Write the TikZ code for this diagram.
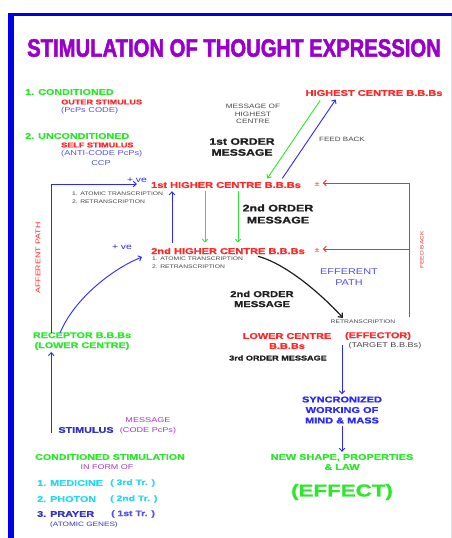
\documentclass[tikz,border=0pt]{standalone}
\usepackage{fontspec}
\setmainfont{Liberation Sans}[FakeStretch=1.3,BoldFeatures={FakeBold=1.2}]
\newfontfamily\titlefont{Liberation Sans}[FakeStretch=0.81,BoldFeatures={FakeBold=2}]
\usepackage{xcolor}
\usetikzlibrary{positioning}
\usetikzlibrary{arrows.meta}
\usetikzlibrary{calc}

\definecolor{framec}{RGB}{0,0,230}
\definecolor{titlec}{RGB}{153,0,204}
\definecolor{redc}{RGB}{255,40,40}
\definecolor{greenc}{RGB}{45,230,45}
\definecolor{bluec}{RGB}{40,40,255}
\definecolor{softbluec}{RGB}{80,80,235}
\definecolor{darkbluec}{RGB}{50,50,190}
\definecolor{cyanc}{RGB}{40,215,240}
\definecolor{purplec}{RGB}{170,50,210}
\definecolor{grayc}{RGB}{70,70,70}
\definecolor{darkc}{RGB}{30,30,30}
\definecolor{edgec}{RGB}{225,225,245}

\begin{document}
\begin{tikzpicture}[x=1pt,y=-1pt,inner sep=0pt,
      title style/.style={text=titlec,font=\titlefont\bfseries\fontsize{25}{25}\selectfont},
      centre style/.style={text=redc,font=\bfseries\fontsize{8.5}{10}\selectfont},
      kind style/.style={text=greenc,font=\bfseries\fontsize{8.3}{10}\selectfont,align=center},
      sub style/.style={text=redc,font=\bfseries\fontsize{7}{9}\selectfont},
      code style/.style={text=softbluec,font=\fontsize{7.1}{9}\selectfont},
      note style/.style={text=grayc,font=\fontsize{5.2}{8}\selectfont,align=left},
      order style/.style={text=darkc,font=\bfseries\fontsize{9.4}{11}\selectfont,align=center},
      list style/.style={font=\bfseries\fontsize{8.3}{10}\selectfont},
      pm style/.style={text=redc,font=\fontsize{7}{7}\selectfont},
      blue arrow/.style={draw=bluec,line width=0.9pt,-{Straight Barb[length=3pt,width=5.5pt]}},
      green arrow/.style={draw=greenc,line width=0.9pt,-{Straight Barb[length=3pt,width=5.5pt]}},
      red arrow/.style={draw=redc,line width=0.9pt,-{Straight Barb[length=3pt,width=5.5pt]}}
      ]
      \useasboundingbox (0,0) rectangle (452,538);

      % frame
      \draw[framec,line width=3pt] (8,14.5) -- (452,14.5);
      \draw[framec,line width=6pt] (11,13) -- (11,538);
      \draw[edgec,line width=1pt] (451,16) -- (451,538);

      \node[title style] (title) at (234,48) {STIMULATION OF THOUGHT EXPRESSION};

      % kinds of stimulus
      \node[kind style, anchor=west] (cond) at (25,92) {1. CONDITIONED};
      \node[sub style, anchor=west] (outer) at (61,102) {OUTER STIMULUS};
      \node[code style, anchor=west] (outercode) at (61,111) {(PcPs CODE)};
      \node[kind style, anchor=west] (uncond) at (25,136) {2. UNCONDITIONED};
      \node[sub style, anchor=west] (self) at (61,145) {SELF STIMULUS};
      \node[code style, anchor=west] (anticode) at (61,154) {(ANTI-CODE PcPs)};
      \node[code style] (ccp) at (101,163) {CCP};

      % centres
      \node[centre style] (highest) at (374,93) {HIGHEST CENTRE B.B.Bs};
      \node[centre style] (firsthigher) at (226,185) {1st HIGHER CENTRE B.B.Bs};
      \node[centre style] (secondhigher) at (228,251) {2nd HIGHER CENTRE B.B.Bs};
      \node[pm style] (pmone) at (317,184) {±};
      \node[pm style] (pmtwo) at (317,250) {±};

      \node[note style, align=center, font=\fontsize{6.3}{7.5}\selectfont] (msghighest) at (253,114) {MESSAGE OF\\HIGHEST\\CENTRE};
      \node[order style] (firstorder) at (242,147) {1st ORDER\\MESSAGE};
      \node[note style, font=\fontsize{6.2}{8}\selectfont] (feedtop) at (342,139) {FEED BACK};

      \draw[green arrow, shorten <=5pt, shorten >=4pt] ([xshift=-51pt]highest.south) -- ([xshift=39pt]firsthigher.north);
      \draw[blue arrow, shorten <=4pt, shorten >=4pt] ([xshift=54pt]firsthigher.north) -- ([xshift=-36pt]highest.south);

      \node[note style, anchor=north west] (transone) at (72,192) {1. ATOMIC TRANSCRIPTION\\2. RETRANSCRIPTION};
      \node[note style, anchor=north west] (transtwo) at (152,257) {1. ATOMIC TRANSCRIPTION\\2. RETRANSCRIPTION};
      \node[order style, font=\bfseries\fontsize{9.6}{12}\selectfont] (secondorder) at (278,214) {2nd ORDER\\MESSAGE};

      \draw[blue arrow, shorten <=5pt, shorten >=3pt] ([xshift=-56pt]secondhigher.north) -- ([xshift=-54pt]firsthigher.south);
      \draw[green arrow, shorten <=3pt, shorten >=5pt] ([xshift=-21pt]firsthigher.south) -- ([xshift=-23pt]secondhigher.north);
      \draw[green arrow, shorten <=3pt, shorten >=5pt] ([xshift=12pt]firsthigher.south) -- ([xshift=10pt]secondhigher.north);

      % feed back loop
      \coordinate (fbbase) at (409,317);
      \draw[red arrow] (fbbase) |- ([xshift=3pt,yshift=1pt]pmone.east);
      \draw[red arrow] ([yshift=1pt]fbbase |- pmtwo.east) -- ([xshift=3pt,yshift=1pt]pmtwo.east);
      \node[text=redc, font=\fontsize{5}{6}\selectfont, rotate=90] (feedside) at (422,250) {FEED BACK};

      % efferent side
      \node[text=softbluec, font=\fontsize{8.4}{11}\selectfont, align=center] (efferent) at (349,277) {EFFERENT\\PATH};
      \node[order style, font=\bfseries\fontsize{8.6}{10}\selectfont] (secondorderb) at (262,299) {2nd ORDER\\MESSAGE};
      \node[note style] (retrans) at (363,322) {RETRANSCRIPTION};
      \draw[darkc, line width=1.2pt, -{Straight Barb[length=3.5pt,width=6pt]}] ([xshift=30pt,yshift=-2pt]secondhigher.south) .. controls +(30,8) and +(-18,-20) .. ([xshift=-20pt,yshift=2pt]retrans.north);

      \node[centre style, font=\bfseries\fontsize{8.4}{10}\selectfont] (lowercentre) at (287,336) {LOWER CENTRE};
      \node[centre style, font=\bfseries\fontsize{8.4}{10}\selectfont] (effector) at (378,336) {(EFFECTOR)};
      \node[centre style, font=\bfseries\fontsize{8.4}{10}\selectfont] (lowerbbbs) at (287,346) {B.B.Bs};
      \node[text=grayc, font=\fontsize{7}{9}\selectfont] (target) at (385,346) {(TARGET B.B.Bs)};
      \node[order style, font=\bfseries\fontsize{7}{9}\selectfont] (thirdorder) at (278,358) {3rd ORDER MESSAGE};

      \node[text=bluec, font=\bfseries\fontsize{8.45}{10.5}\selectfont, align=center] (sync) at (342,410) {SYNCRONIZED\\WORKING OF\\MIND \& MASS};
      \node[kind style, font=\bfseries\fontsize{8.4}{10}\selectfont] (newshape) at (342,462) {NEW SHAPE, PROPERTIES\\\& LAW};
      \node[kind style, font=\bfseries\fontsize{17.2}{18}\selectfont] (effect) at (342,492) {(EFFECT)};

      \draw[blue arrow, shorten <=5pt, shorten >=2pt] (effector.south -| sync.north) -- (sync.north);
      \draw[blue arrow, shorten <=2pt, shorten >=2pt] (sync.south) -- (newshape.north);

      % afferent side
      \node[kind style] (receptor) at (82,341) {RECEPTOR B.B.Bs\\(LOWER CENTRE)};
      \node[text=redc, font=\fontsize{6.8}{8}\selectfont, rotate=90] (afferent) at (38,258) {AFFERENT PATH};
      \node[text=bluec, font=\fontsize{8}{9}\selectfont] (plusone) at (137,180) {+ ve};
      \node[text=bluec, font=\fontsize{8}{9}\selectfont] (plustwo) at (122,247) {+ ve};

      \draw[blue arrow] ([xshift=-31pt,yshift=-1pt]receptor.north) |- ([xshift=-14pt,yshift=1pt]firsthigher.west);
      \draw[blue arrow] ([xshift=-22pt,yshift=-1pt]receptor.north) .. controls +(14,-34) and +(-30,12) .. ([xshift=-9pt,yshift=-6pt]secondhigher.west);

      \node[text=darkbluec, font=\bfseries\fontsize{8.3}{10}\selectfont] (stimulus) at (86,430) {STIMULUS};
      \node[text=purplec, font=\fontsize{7}{10}\selectfont, align=center] (message) at (148,426) {MESSAGE\\(CODE PcPs)};
      \coordinate (stimfoot) at ([xshift=-7pt,yshift=-3pt]stimulus.west);
      \draw[blue arrow, shorten >=2pt] (stimfoot) -- (stimfoot |- receptor.south);

      % conditioned stimulation
      \node[kind style, font=\bfseries\fontsize{8.2}{10}\selectfont] (condstim) at (110,457) {CONDITIONED STIMULATION};
      \node[text=purplec, font=\fontsize{6.9}{8}\selectfont] (inform) at (107,467) {IN FORM OF};
      \node[list style, text=cyanc, anchor=west] (medicine) at (37,483) {1. MEDICINE};
      \node[list style, text=cyanc, anchor=west, font=\bfseries\fontsize{8}{10}\selectfont] (medicinetr) at (110,483) {( 3rd Tr. )};
      \node[list style, text=cyanc, anchor=west] (photon) at (37,499) {2. PHOTON};
      \node[list style, text=cyanc, anchor=west, font=\bfseries\fontsize{8}{10}\selectfont] (photontr) at (110,499) {( 2nd Tr. )};
      \node[list style, text=darkbluec, anchor=west] (prayer) at (37,514) {3. PRAYER};
      \node[list style, text=softbluec, anchor=west, font=\bfseries\fontsize{8}{10}\selectfont] (prayertr) at (111,514) {( 1st Tr. )};
      \node[text=darkbluec, anchor=west, font=\fontsize{6.3}{8}\selectfont] (genes) at (50,525) {(ATOMIC GENES)};

    \end{tikzpicture}
\end{document}
